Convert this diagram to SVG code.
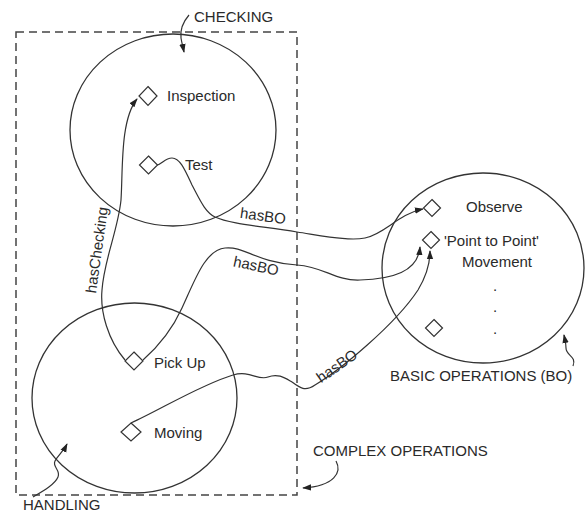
<svg xmlns="http://www.w3.org/2000/svg" width="585" height="512" viewBox="0 0 585 512">
<style>
text{font-family:"Liberation Sans",Arial,sans-serif;font-size:15px;fill:#2a2a2a}
.set{fill:none;stroke:#333;stroke-width:1.3}
.dia{fill:#fff;stroke:#333;stroke-width:1.2}
.con{fill:none;stroke:#333;stroke-width:1.2;marker-end:url(#ah)}
.frame{fill:none;stroke:#444;stroke-width:1.5;stroke-dasharray:8 5}
</style>
<defs>
<marker id="ah" viewBox="0 0 10 10" refX="9" refY="5" markerWidth="9" markerHeight="9" markerUnits="userSpaceOnUse" orient="auto">
<path d="M0,1.5 L10,5 L0,8.5 z" fill="#222"/>
</marker>
</defs>
<rect id="complex-operations" class="frame" x="16" y="32" width="281" height="463"/>
<g id="checking">
<ellipse class="set" cx="173" cy="130" rx="103" ry="96"/>
<text x="194" y="22">CHECKING</text>
</g>
<g id="handling">
<ellipse class="set" cx="134.5" cy="398" rx="102.5" ry="95"/>
<text x="23" y="510">HANDLING</text>
</g>
<g id="basic-operations">
<ellipse class="set" cx="483" cy="268" rx="101" ry="95"/>
<text x="390" y="381">BASIC OPERATIONS (BO)</text>
</g>
<g id="complex-label">
<text x="313" y="456">COMPLEX OPERATIONS</text>
</g>
<g id="connectors">
<path class="con" d="M189 15 C183 22 180 30 181 38 C182 44 183 47 184 52"/>
<path class="con" d="M33 497 C45 490 55 484 58 477 C61 470 52 467 55 461 C58 455 63 452 67 444"/>
<path class="con" d="M336 461 C342 472 335 486 303 488"/>
<path class="con" d="M573 366 C577 356 566 356 566 348 C566 343 565 340 564 335"/>
<path class="con" d="M125 360 C108 340 100 312 102 290 C104 260 118 230 121 200 C123 170 120 120 137 99"/>
<path class="con" d="M157 165 C162 164 165 158 172 158 C180 158 185 170 192 185 C200 200 205 212 215 217 C230 224 260 226 297 232 C330 237 350 241 365 238 C385 234 398 214 423 209"/>
<path class="con" d="M143 360 C160 345 172 330 182 308 C195 280 205 250 225 248 C245 246 255 262 297 265 C325 267 335 281 360 280 C392 279 418 272 420 247"/>
<path class="con" d="M131 423 C160 410 200 385 233 375 C250 370 258 381 268 377 C278 373 285 378 292 382 C300 388 305 392 315 385 C340 370 395 325 418 290 C427 275 430 264 430 251"/>
<text transform="translate(263 216) rotate(8)" text-anchor="middle" y="5">hasBO</text>
<text transform="translate(256 266) rotate(12)" text-anchor="middle" y="5">hasBO</text>
<text transform="translate(337 366) rotate(-35)" text-anchor="middle" y="5">hasBO</text>
<text transform="translate(97 250) rotate(-82)" text-anchor="middle" y="5">hasChecking</text>
</g>
<g id="inspection">
<path class="dia" d="M148 86.5 L157 96 L148 105.5 L139 96 Z"/>
<text x="167" y="101">Inspection</text>
</g>
<g id="test">
<path class="dia" d="M148.5 156 L157.5 165 L148.5 174 L139.5 165 Z"/>
<text x="185" y="170">Test</text>
</g>
<g id="pick-up">
<path class="dia" d="M134 352 L143 361 L134 370 L125 361 Z"/>
<text x="154" y="368">Pick Up</text>
</g>
<g id="moving">
<path class="dia" d="M131 423 L141 432 L131 441 L121 432 Z"/>
<text x="154" y="438">Moving</text>
</g>
<g id="observe">
<path class="dia" d="M432 199.5 L440.5 208 L432 216.5 L423.5 208 Z"/>
<text x="466" y="212">Observe</text>
</g>
<g id="point-to-point">
<path class="dia" d="M431 231.5 L439.5 240 L431 248.5 L422.5 240 Z"/>
<text x="444" y="246">'Point to Point'</text>
<text x="462" y="267">Movement</text>
</g>
<g id="other-bo">
<path class="dia" d="M434 319.5 L442.5 328 L434 336.5 L425.5 328 Z"/>
<text x="495" y="291" text-anchor="middle">.</text>
<text x="495" y="312" text-anchor="middle">.</text>
<text x="495" y="334" text-anchor="middle">.</text>
</g>
</svg>
